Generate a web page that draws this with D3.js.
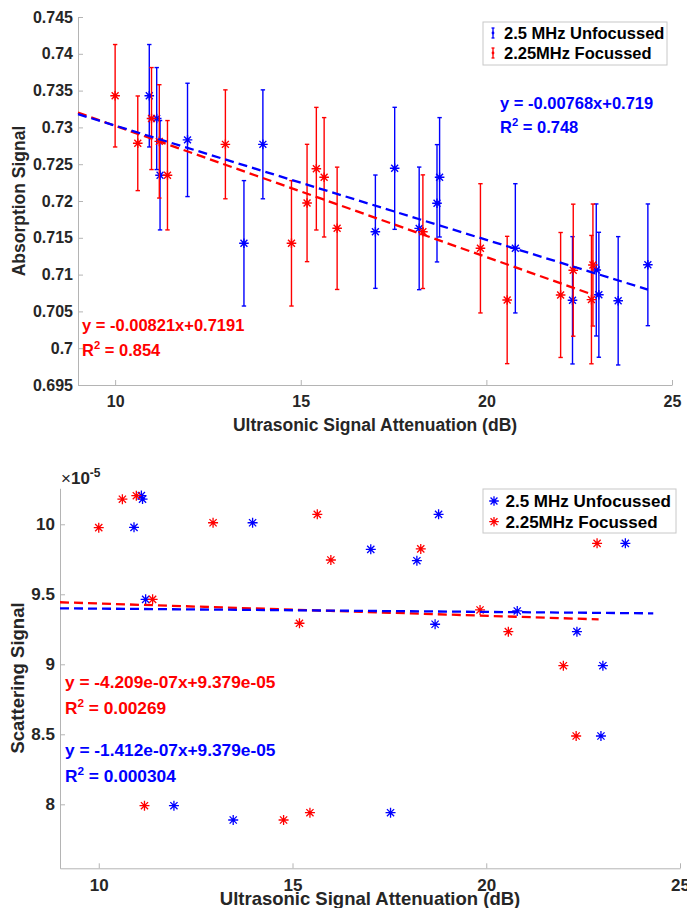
<!DOCTYPE html>
<html>
<head>
<meta charset="utf-8">
<script src="https://cdn.jsdelivr.net/npm/d3@7"></script>
<style>
  body { margin: 0; background: #fff; }
  svg text { font-family: "Liberation Sans", Arial, Helvetica, sans-serif; font-weight: bold; }
</style>
</head>
<body>
<svg id="fig" width="687" height="908"></svg>
<script>
// ---- top panel: absorption signal (with error bars) ----
var absBlueX = [10.92, 11.12, 11.21, 11.95, 13.47, 13.98, 17.01, 17.53, 18.19, 18.67, 18.74, 20.78, 22.32, 22.96, 23.03, 23.55, 24.35];
var absBlueY = [0.7343, 0.7312, 0.7235, 0.7283, 0.71425, 0.7277, 0.71583, 0.72444, 0.71628, 0.71969, 0.72322, 0.71357, 0.70651, 0.71063, 0.70726, 0.70644, 0.71133];
var absBlueErr = [0.00696, 0.00693, 0.00743, 0.0077, 0.00852, 0.0074, 0.0077, 0.00829, 0.00833, 0.00797, 0.00811, 0.00878, 0.00865, 0.00897, 0.00849, 0.00872, 0.00827];

var absRedX = [10.0, 10.61, 10.98, 11.19, 11.41, 12.97, 14.75, 15.17, 15.42, 15.63, 15.98, 18.29, 19.84, 20.56, 22.0, 22.34, 22.83, 22.87];
var absRedY = [0.7343, 0.72784, 0.7312, 0.7281, 0.7235, 0.7277, 0.71425, 0.71973, 0.72439, 0.72322, 0.71629, 0.71583, 0.71357, 0.70655, 0.70723, 0.7106, 0.7066, 0.7113];
var absRedErr = [0.00696, 0.00643, 0.00693, 0.0077, 0.00743, 0.0074, 0.00852, 0.00797, 0.00833, 0.00811, 0.00831, 0.00772, 0.00878, 0.00865, 0.00849, 0.00897, 0.00872, 0.00829];

var absFitBlueX = [9, 24.35], absFitBlueY = [0.7318, 0.70797];
var absFitRedX = [9, 22.87], absFitRedY = [0.7320, 0.70727];

var absXTicks = [10, 15, 20, 25];
var absYTicks = [0.695, 0.7, 0.705, 0.71, 0.715, 0.72, 0.725, 0.73, 0.735, 0.74, 0.745];

// ---- bottom panel: scattering signal (x 1e-5) ----
var scatBlueX = [10.91, 11.10, 11.13, 11.21, 11.94, 13.47, 13.97, 17.02, 17.53, 18.21, 18.68, 18.77, 20.80, 22.34, 22.96, 23.01, 23.59];
var scatBlueY = [9.978, 10.205, 10.18, 9.464, 7.99, 7.888, 10.011, 9.821, 7.94, 9.74, 9.286, 10.071, 9.381, 9.233, 8.488, 8.99, 9.864];
var scatRedX = [10.0, 10.61, 10.97, 11.18, 11.39, 12.95, 14.77, 15.18, 15.45, 15.64, 15.99, 18.31, 19.84, 20.57, 21.99, 22.32, 22.86];
var scatRedY = [9.976, 10.179, 10.204, 7.99, 9.464, 10.011, 7.888, 9.293, 7.94, 10.071, 9.745, 9.824, 9.388, 9.233, 8.99, 8.488, 9.864];

var scatFitBlueX = [9, 24.31], scatFitBlueY = [9.400, 9.364];
var scatFitRedX = [9, 22.9], scatFitRedY = [9.443, 9.321];

var scatXTicks = [10, 15, 20, 25];
var scatYTicks = [8, 8.5, 9, 9.5, 10];

var seriesNames = ['2.5 MHz Unfocussed', '2.25MHz Focussed'];
var BLUE = '#0000ff', RED = '#ff0000', AXIS = '#b4b4b4', INK = '#262626';

var svg = d3.select('#fig');

// asterisk marker like matlab '*'
function star(g, cx, cy, r, color, sw) {
  var d = r * 0.72;
  var p = 'M' + (cx - r) + ',' + cy + 'H' + (cx + r) +
    'M' + cx + ',' + (cy - r) + 'V' + (cy + r) +
    'M' + (cx - d) + ',' + (cy - d) + 'L' + (cx + d) + ',' + (cy + d) +
    'M' + (cx - d) + ',' + (cy + d) + 'L' + (cx + d) + ',' + (cy - d);
  g.append('path').attr('d', p).attr('stroke', color).attr('stroke-width', sw).attr('fill', 'none');
}

function axes(g, x, y, xt, yt, fs, yfmt, xpad) {
  var xa = g.append('g')
    .attr('transform', 'translate(0,' + y.range()[0] + ')')
    .call(d3.axisBottom(x).tickValues(xt).tickSize(-5).tickSizeOuter(0).tickPadding(xpad).tickFormat(d3.format('d')));
  var ya = g.append('g')
    .attr('transform', 'translate(' + x.range()[0] + ',0)')
    .call(d3.axisLeft(y).tickValues(yt).tickSize(-5).tickSizeOuter(0).tickPadding(5).tickFormat(yfmt));
  [xa, ya].forEach(function(a) {
    a.select('.domain').attr('stroke', AXIS);
    a.selectAll('.tick line').attr('stroke', AXIS);
    a.selectAll('.tick text').attr('fill', INK).style('font-size', fs + 'px').style('font-weight', 'bold')
      .style('font-family', '"Liberation Sans", Arial, sans-serif');
  });
}

function fitLine(g, x, y, xs, ys, color) {
  var line = d3.line().x(function(d) { return x(d[0]); }).y(function(d) { return y(d[1]); });
  g.append('path')
    .datum(d3.zip(xs, ys))
    .attr('d', line)
    .attr('fill', 'none')
    .attr('stroke', color)
    .attr('stroke-width', 2.3)
    .attr('stroke-dasharray', '9,5');
}

function eqText(g, px, py, eq, r2, color, fs, gap) {
  g.append('text').attr('x', px).attr('y', py).attr('fill', color).style('font-size', fs + 'px').text(eq);
  var t = g.append('text').attr('x', px).attr('y', py + gap).attr('fill', color).style('font-size', fs + 'px');
  t.append('tspan').text('R');
  t.append('tspan').attr('dy', -fs * 0.4).style('font-size', (fs * 0.68) + 'px').text('2');
  t.append('tspan').attr('dy', fs * 0.4).text(' = ' + r2);
}

// ================= top panel =================
var topG = svg.append('g');
var x1 = d3.scaleLinear().domain([9, 25]).range([78, 672]);
var y1 = d3.scaleLinear().domain([0.695, 0.745]).range([385, 17]);

axes(topG, x1, y1, absXTicks, absYTicks, 16, function(d) { return d3.format('')(+d.toFixed(3)); }, 11);

function errSeries(g, xs, ys, es, color) {
  xs.forEach(function(xv, i) {
    var cx = x1(xv), y0 = y1(ys[i] - es[i]), yT = y1(ys[i] + es[i]);
    g.append('line').attr('x1', cx).attr('x2', cx).attr('y1', y0).attr('y2', yT)
      .attr('stroke', color).attr('stroke-width', 1.4);
    [y0, yT].forEach(function(yy) {
      g.append('line').attr('x1', cx - 2.2).attr('x2', cx + 2.2).attr('y1', yy).attr('y2', yy)
        .attr('stroke', color).attr('stroke-width', 1.4);
    });
    star(g, cx, y1(ys[i]), 4.8, color, 1.4);
  });
}
errSeries(topG, absBlueX, absBlueY, absBlueErr, BLUE);
errSeries(topG, absRedX, absRedY, absRedErr, RED);
fitLine(topG, x1, y1, absFitRedX, absFitRedY, RED);
fitLine(topG, x1, y1, absFitBlueX, absFitBlueY, BLUE);

eqText(topG, 500, 109, 'y = -0.00768x+0.719', '0.748', BLUE, 16.5, 24);
eqText(topG, 82, 331, 'y = -0.00821x+0.7191', '0.854', RED, 16.5, 25);

topG.append('text')
  .attr('transform', 'translate(25,201) rotate(-90)')
  .attr('text-anchor', 'middle').attr('fill', INK).style('font-size', '17.5px')
  .text('Absorption Signal');
topG.append('text')
  .attr('x', 375).attr('y', 431)
  .attr('text-anchor', 'middle').attr('fill', INK).style('font-size', '17.5px')
  .text('Ultrasonic Signal Attenuation (dB)');

// legend (error bar icons)
var lg1 = topG.append('g');
lg1.append('rect').attr('x', 483).attr('y', 22).attr('width', 184).attr('height', 43)
  .attr('fill', '#fff').attr('stroke', '#c8c8c8').attr('stroke-width', 1);
[BLUE, RED].forEach(function(c, i) {
  var cy = 33 + i * 20;
  lg1.append('line').attr('x1', 493).attr('x2', 493).attr('y1', cy - 5).attr('y2', cy + 5).attr('stroke', c).attr('stroke-width', 1.3);
  lg1.append('line').attr('x1', 491.5).attr('x2', 494.5).attr('y1', cy - 5).attr('y2', cy - 5).attr('stroke', c).attr('stroke-width', 1.3);
  lg1.append('line').attr('x1', 491.5).attr('x2', 494.5).attr('y1', cy + 5).attr('y2', cy + 5).attr('stroke', c).attr('stroke-width', 1.3);
  lg1.append('circle').attr('cx', 493).attr('cy', cy).attr('r', 1.4).attr('fill', c);
  lg1.append('text').attr('x', 504).attr('y', cy + 6).attr('fill', '#000').style('font-size', '16.5px').text(seriesNames[i]);
});

// ================= bottom panel =================
var botG = svg.append('g');
var x2 = d3.scaleLinear().domain([9, 25]).range([60, 680]);
var y2 = d3.scaleLinear().domain([7.543, 10.257]).range([868.3, 488.3]);

axes(botG, x2, y2, scatXTicks, scatYTicks, 17, function(d) { return d3.format('')(d); }, 10.5);

scatBlueX.forEach(function(xv, i) { star(botG, x2(xv), y2(scatBlueY[i]), 5, BLUE, 1.3); });
scatRedX.forEach(function(xv, i) { star(botG, x2(xv), y2(scatRedY[i]), 5, RED, 1.3); });
fitLine(botG, x2, y2, scatFitRedX, scatFitRedY, RED);
fitLine(botG, x2, y2, scatFitBlueX, scatFitBlueY, BLUE);

eqText(botG, 65, 688, 'y = -4.209e-07x+9.379e-05', '0.00269', RED, 17.3, 26);
eqText(botG, 65, 756, 'y = -1.412e-07x+9.379e-05', '0.000304', BLUE, 17.3, 26);

// exponent label
var ex = botG.append('text').attr('x', 61).attr('y', 484).attr('fill', INK).style('font-size', '17px');
ex.append('tspan').style('font-weight', 'normal').text('\u00d7');
ex.append('tspan').text('10');
ex.append('tspan').attr('dy', -7).style('font-size', '12px').text('-5');

botG.append('text')
  .attr('transform', 'translate(24,678) rotate(-90)')
  .attr('text-anchor', 'middle').attr('fill', INK).style('font-size', '18.5px')
  .text('Scattering Signal');
botG.append('text')
  .attr('x', 370).attr('y', 905)
  .attr('text-anchor', 'middle').attr('fill', INK).style('font-size', '18.5px')
  .text('Ultrasonic Signal Attenuation (dB)');

var lg2 = botG.append('g');
lg2.append('rect').attr('x', 483).attr('y', 489).attr('width', 193).attr('height', 44)
  .attr('fill', '#fff').attr('stroke', '#c8c8c8').attr('stroke-width', 1);
[BLUE, RED].forEach(function(c, i) {
  var cy = 501 + i * 20.7;
  star(lg2, 494, cy, 4.8, c, 1.3);
  lg2.append('text').attr('x', 505.5).attr('y', cy + 6).attr('fill', '#000').style('font-size', '17px').text(seriesNames[i]);
});
</script>
</body>
</html>
